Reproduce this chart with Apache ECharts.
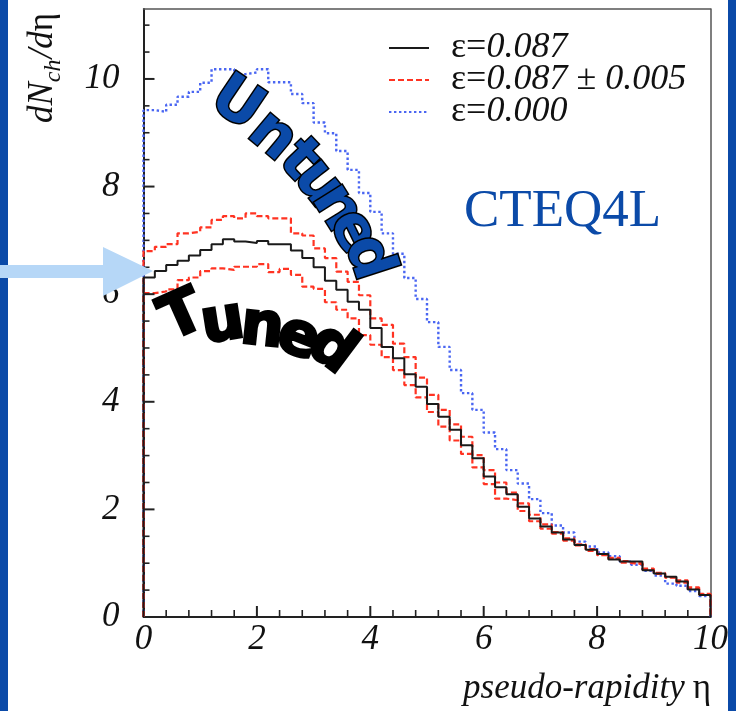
<!DOCTYPE html>
<html>
<head>
<meta charset="utf-8">
<script src="https://cdn.jsdelivr.net/npm/echarts@6/dist/echarts.min.js"></script>
<style>
  html, body { margin: 0; padding: 0; background: #ffffff; }
  #chart { width: 736px; height: 711px; }
</style>
</head>
<body>
<div id="chart"></div>
<script>
// Histogram of dN_ch/dη in 50 bins of width 0.2 from η = 0 to η = 10
const binWidth = 0.2;
const binCount = 50;

// ε = 0.087 (tuned)
const tuned = [
  6.31, 6.43, 6.54, 6.62, 6.72, 6.82, 6.93, 7.02, 6.98, 6.95,
  6.99, 6.93, 6.93, 6.81, 6.67, 6.50, 6.25, 6.08, 5.86, 5.71,
  5.37, 5.02, 4.81, 4.51, 4.28, 3.96, 3.72, 3.48, 3.19, 2.95,
  2.61, 2.41, 2.28, 2.05, 1.83, 1.68, 1.57, 1.44, 1.34, 1.25,
  1.17, 1.07, 1.03, 1.03, 0.87, 0.81, 0.75, 0.66, 0.51, 0.41
];
// upper edge of the ε band
const tunedUpper = [
  6.80, 6.88, 6.93, 7.13, 7.16, 7.24, 7.38, 7.45, 7.41, 7.50,
  7.45, 7.41, 7.41, 7.13, 7.09, 6.85, 6.67, 6.42, 6.23, 5.98,
  5.55, 5.43, 5.08, 4.83, 4.45, 4.13, 3.85, 3.58, 3.35, 3.01,
  2.73, 2.50, 2.31, 2.11, 1.90, 1.72, 1.58, 1.46, 1.35, 1.26,
  1.16, 1.10, 1.04, 1.00, 0.90, 0.82, 0.74, 0.68, 0.55, 0.43
];
// lower edge of the ε band
const tunedLower = [
  6.02, 6.05, 6.09, 6.26, 6.31, 6.43, 6.48, 6.45, 6.51, 6.51,
  6.56, 6.41, 6.47, 6.36, 6.14, 6.10, 5.85, 5.71, 5.55, 5.24,
  5.06, 4.83, 4.59, 4.31, 4.08, 3.81, 3.54, 3.28, 3.03, 2.78,
  2.47, 2.20, 2.17, 1.97, 1.78, 1.64, 1.55, 1.42, 1.33, 1.23,
  1.15, 1.08, 1.01, 0.98, 0.88, 0.80, 0.73, 0.64, 0.52, 0.42
];
// ε = 0.000 (untuned)
const untuned = [
  9.42, 9.39, 9.52, 9.67, 9.76, 9.93, 10.18, 10.18, 10.09, 10.12,
  10.18, 9.94, 9.94, 9.72, 9.55, 9.19, 8.99, 8.66, 8.31, 7.88,
  7.53, 7.13, 6.75, 6.30, 5.91, 5.48, 5.02, 4.59, 4.16, 3.85,
  3.43, 3.12, 2.73, 2.48, 2.19, 1.93, 1.70, 1.57, 1.40, 1.31,
  1.20, 1.13, 1.03, 0.97, 0.86, 0.77, 0.62, 0.58, 0.48, 0.39
];

const seriesNames = ['ε=0.087', 'ε=0.087 ± 0.005', 'ε=0.000'];
const xTickValues = [0, 2, 4, 6, 8, 10];
const yTickValues = [0, 2, 4, 6, 8, 10];
const xMinorStep = 0.4;
const yMinorStep = 0.5;
const X_MAX = 10;
const Y_MAX = 11.3;

const SERIF = '"Liberation Serif", "Times New Roman", serif';
const HEAVY = '"DejaVu Sans", "Liberation Sans", sans-serif';
const BLUE = '#0b4aa8';
const INK = '#222';

// plot rectangle
const GRID = { left: 143.5, top: 9, width: 567, height: 608 };

// Step outline of a histogram, closed down to zero at both ends
function histogramOutline(values) {
  const pts = [[0, 0]];
  values.forEach((v, i) => pts.push([i * binWidth, v]));
  pts.push([binCount * binWidth, values[values.length - 1]]);
  pts.push([binCount * binWidth, 0]);
  return pts;
}

// Tick positions along an axis (in data units)
function tickRange(step, max) {
  const out = [];
  for (let k = 1; k * step <= max + 1e-9; k++) out.push(+(k * step).toFixed(3));
  return out;
}
const xMinorTicks = tickRange(xMinorStep, X_MAX).filter(v => !xTickValues.includes(v) && v < X_MAX);
const yMinorTicks = tickRange(yMinorStep, Y_MAX).filter(v => !yTickValues.includes(v));
const xMajorTicks = xTickValues.filter(v => v > 0 && v < X_MAX);
const yMajorTicks = yTickValues.filter(v => v > 0);

// Text measurement for hand-placed titles
const measureCtx = document.createElement('canvas').getContext('2d');
function textWidth(str, font) {
  measureCtx.font = font;
  return measureCtx.measureText(str).width;
}

// Legend text: Greek letters and symbols upright, numbers in italic
function legendRich(name) {
  let out = '';
  let buf = '';
  let mode = null;
  for (const ch of name) {
    const m = /[0-9.]/.test(ch) ? 'i' : 'u';
    if (m !== mode && buf) { out += '{' + mode + '|' + buf + '}'; buf = ''; }
    mode = m;
    buf += ch;
  }
  if (buf) out += '{' + mode + '|' + buf + '}';
  return out;
}

// Curved lettering: [char, centre x, centre y, clockwise tilt in degrees]
const untunedLetters = [
  ['U', 236, 105, 34], ['n', 272, 137, 40], ['t', 298, 161, 46],
  ['u', 318, 184, 52], ['n', 336, 208, 58], ['e', 352, 232, 64], ['d', 367, 258, 72]
];
const tunedLetters = [
  ['T', 183, 318, -24], ['u', 223, 324, -9], ['n', 262, 329, 6],
  ['e', 298, 339, 21], ['d', 331, 350, 37]
];

function letterElements(letters, fill, size, outline) {
  return letters.map(([ch, x, y, deg]) => ({
    type: 'text', x: x, y: y, rotation: -deg * Math.PI / 180, z: 50,
    style: {
      text: ch, fontFamily: HEAVY, fontWeight: 'bold', fontSize: size,
      fill: fill, stroke: '#000', lineWidth: outline,
      align: 'center', verticalAlign: 'middle',
      textAlign: 'center', textVerticalAlign: 'middle'
    }
  }));
}

// Axis titles
const titleFont = 'italic 35px ' + SERIF;
const uprightFont = '35px ' + SERIF;
const subFont = 'italic 24px ' + SERIF;
const wEta = textWidth('η', uprightFont);
const wDN = textWidth('dN', titleFont);
const wCh = textWidth('ch', subFont);

const decorations = [
  // side bands of the slide frame
  { type: 'rect', z: 100, shape: { x: 0, y: 0, width: 8, height: 711 }, style: { fill: BLUE } },
  { type: 'rect', z: 100, shape: { x: 728, y: 0, width: 8, height: 711 }, style: { fill: BLUE } },
  // pointer arrow at η = 0
  {
    type: 'polygon', z: 101,
    shape: { points: [[0, 265], [103, 265], [103, 247], [153, 271], [103, 296], [103, 278], [0, 278]] },
    style: { fill: '#b6d7f7' }
  },
  // PDF label
  {
    type: 'text', x: 464, y: 212, z: 20,
    style: {
      text: 'CTEQ4L', fontFamily: SERIF, fontSize: 53, fill: BLUE,
      align: 'left', verticalAlign: 'middle', textAlign: 'left', textVerticalAlign: 'middle'
    }
  },
  // x-axis title
  {
    type: 'text', x: 711, y: 689, z: 20,
    style: {
      text: 'η', font: uprightFont, fill: '#111',
      align: 'right', verticalAlign: 'middle', textAlign: 'right', textVerticalAlign: 'middle'
    }
  },
  {
    type: 'text', x: 711 - wEta - 8, y: 689, z: 20,
    style: {
      text: 'pseudo-rapidity', font: titleFont, fill: '#111',
      align: 'right', verticalAlign: 'middle', textAlign: 'right', textVerticalAlign: 'middle'
    }
  },
  // y-axis title, reading upwards
  {
    type: 'group', x: 55, y: 123, rotation: Math.PI / 2, z: 20,
    children: [
      {
        type: 'text', x: 0, y: -12,
        style: { text: 'dN', font: titleFont, fill: '#111', align: 'left', verticalAlign: 'middle', textAlign: 'left', textVerticalAlign: 'middle' }
      },
      {
        type: 'text', x: wDN, y: -1,
        style: { text: 'ch', font: subFont, fill: '#111', align: 'left', verticalAlign: 'middle', textAlign: 'left', textVerticalAlign: 'middle' }
      },
      {
        type: 'text', x: wDN + wCh + 1, y: -12,
        style: { text: '/d', font: titleFont, fill: '#111', align: 'left', verticalAlign: 'middle', textAlign: 'left', textVerticalAlign: 'middle' }
      },
      {
        type: 'text', x: wDN + wCh + 1 + textWidth('/d', titleFont), y: -12,
        style: { text: 'η', font: uprightFont, fill: '#111', align: 'left', verticalAlign: 'middle', textAlign: 'left', textVerticalAlign: 'middle' }
      }
    ]
  }
]
  .concat(letterElements(untunedLetters, BLUE, 60, 3))
  .concat(letterElements(tunedLetters, '#000', 60, 3));

const chart = echarts.init(document.getElementById('chart'), null, { renderer: 'canvas' });

const option = {
  animation: false,
  backgroundColor: '#ffffff',
  grid: {
    left: GRID.left, top: GRID.top, width: GRID.width, height: GRID.height,
    show: false, containLabel: false, outerBoundsMode: 'none'
  },
  legend: {
    orient: 'vertical', left: 388, top: 30, padding: 0,
    itemWidth: 40, itemHeight: 14, itemGap: -4,
    selectedMode: false,
    data: seriesNames,
    formatter: legendRich,
    itemStyle: { opacity: 0 },
    textStyle: {
      color: '#111', fontFamily: SERIF, fontSize: 36, lineHeight: 29, padding: [0, 0, 0, 17],
      rich: {
        u: { fontFamily: SERIF, fontSize: 36, lineHeight: 29, color: '#111' },
        i: { fontFamily: SERIF, fontSize: 36, fontStyle: 'italic', lineHeight: 29, color: '#111' }
      }
    }
  },
  xAxis: [
    {
      type: 'value', min: 0, max: X_MAX, interval: 2, position: 'bottom',
      axisLine: { show: true, onZero: false, lineStyle: { color: INK, width: 2 } },
      axisTick: { show: false }, minorTick: { show: false },
      splitLine: { show: false }, minorSplitLine: { show: false },
      axisLabel: {
        show: true, margin: 5, color: '#111', fontFamily: SERIF, fontStyle: 'italic', fontSize: 35,
        showMinLabel: true, showMaxLabel: true, hideOverlap: false,
        formatter: v => (xTickValues.includes(v) ? String(v) : '')
      }
    },
    {
      // top edge of the frame
      type: 'value', min: 0, max: X_MAX, position: 'top',
      axisLine: { show: true, onZero: false, lineStyle: { color: '#555', width: 1.5 } },
      axisTick: { show: false }, axisLabel: { show: false }, splitLine: { show: false }
    }
  ],
  yAxis: [
    {
      type: 'value', min: 0, max: Y_MAX, interval: 2, position: 'left',
      axisLine: { show: true, onZero: false, lineStyle: { color: INK, width: 2 } },
      axisTick: { show: false },
      splitLine: { show: false },
      axisLabel: {
        show: true, margin: 24, color: '#111', fontFamily: SERIF, fontStyle: 'italic', fontSize: 35,
        showMaxLabel: false, hideOverlap: false,
        formatter: v => (yTickValues.includes(v) ? String(v) : '')
      }
    },
    {
      // right edge of the frame
      type: 'value', min: 0, max: Y_MAX, position: 'right', offset: 0,
      axisLine: { show: true, onZero: false, lineStyle: { color: '#555', width: 1.5 } },
      axisTick: { show: false }, axisLabel: { show: false }, splitLine: { show: false }
    }
  ],
  series: [
    {
      type: 'line', name: seriesNames[0], data: histogramOutline(tuned), step: 'end',
      symbol: 'none', showSymbol: false, silent: true, z: 5, xAxisIndex: 0, yAxisIndex: 0,
      lineStyle: { color: '#1a1a1a', width: 2 }, itemStyle: { color: '#1a1a1a' }
    },
    {
      type: 'line', name: seriesNames[1], data: histogramOutline(tunedUpper), step: 'end',
      symbol: 'none', showSymbol: false, silent: true, z: 4, xAxisIndex: 0, yAxisIndex: 0,
      lineStyle: { color: '#ff3322', width: 2.2, type: [6, 3] }, itemStyle: { color: '#ff3322' }
    },
    {
      type: 'line', name: seriesNames[1], data: histogramOutline(tunedLower), step: 'end',
      symbol: 'none', showSymbol: false, silent: true, z: 4, xAxisIndex: 0, yAxisIndex: 0,
      lineStyle: { color: '#ff3322', width: 2.2, type: [6, 3] }, itemStyle: { color: '#ff3322' }
    },
    {
      type: 'line', name: seriesNames[2], data: histogramOutline(untuned), step: 'end',
      symbol: 'none', showSymbol: false, silent: true, z: 3, xAxisIndex: 0, yAxisIndex: 0,
      lineStyle: { color: '#4a66f2', width: 2.4, type: [2.4, 2.6] }, itemStyle: { color: '#4a66f2' }
    }
  ],
  graphic: { elements: decorations }
};

chart.setOption(option);

// Data -> pixel through the chart's cartesian; plain linear map of the grid as a fallback
function toPixel(xv, yv) {
  let p = null;
  try { p = chart.convertToPixel({ gridIndex: 0 }, [xv, yv]); } catch (e) { p = null; }
  if (!p || !isFinite(p[0]) || !isFinite(p[1])) {
    p = [GRID.left + xv / X_MAX * GRID.width, GRID.top + GRID.height - yv / Y_MAX * GRID.height];
  }
  return p;
}

// Tick marks as thin bars standing on the axes, pointing into the plot
function tickMark(xv, yv, len, onX) {
  const p = toPixel(xv, yv);
  const w = len > 8 ? 2 : 1.6;
  return {
    type: 'rect', z: 30,
    shape: onX
      ? { x: p[0] - w / 2, y: p[1] - len, width: w, height: len }
      : { x: p[0], y: p[1] - w / 2, width: len, height: w },
    style: { fill: INK }
  };
}
const ticks = []
  .concat(xMajorTicks.map(v => tickMark(v, 0, 11, true)))
  .concat(xMinorTicks.map(v => tickMark(v, 0, 7, true)))
  .concat(yMajorTicks.map(v => tickMark(0, v, 11, false)))
  .concat(yMinorTicks.map(v => tickMark(0, v, 6, false)));

chart.setOption({ graphic: { elements: decorations.concat(ticks) } });
</script>
</body>
</html>
